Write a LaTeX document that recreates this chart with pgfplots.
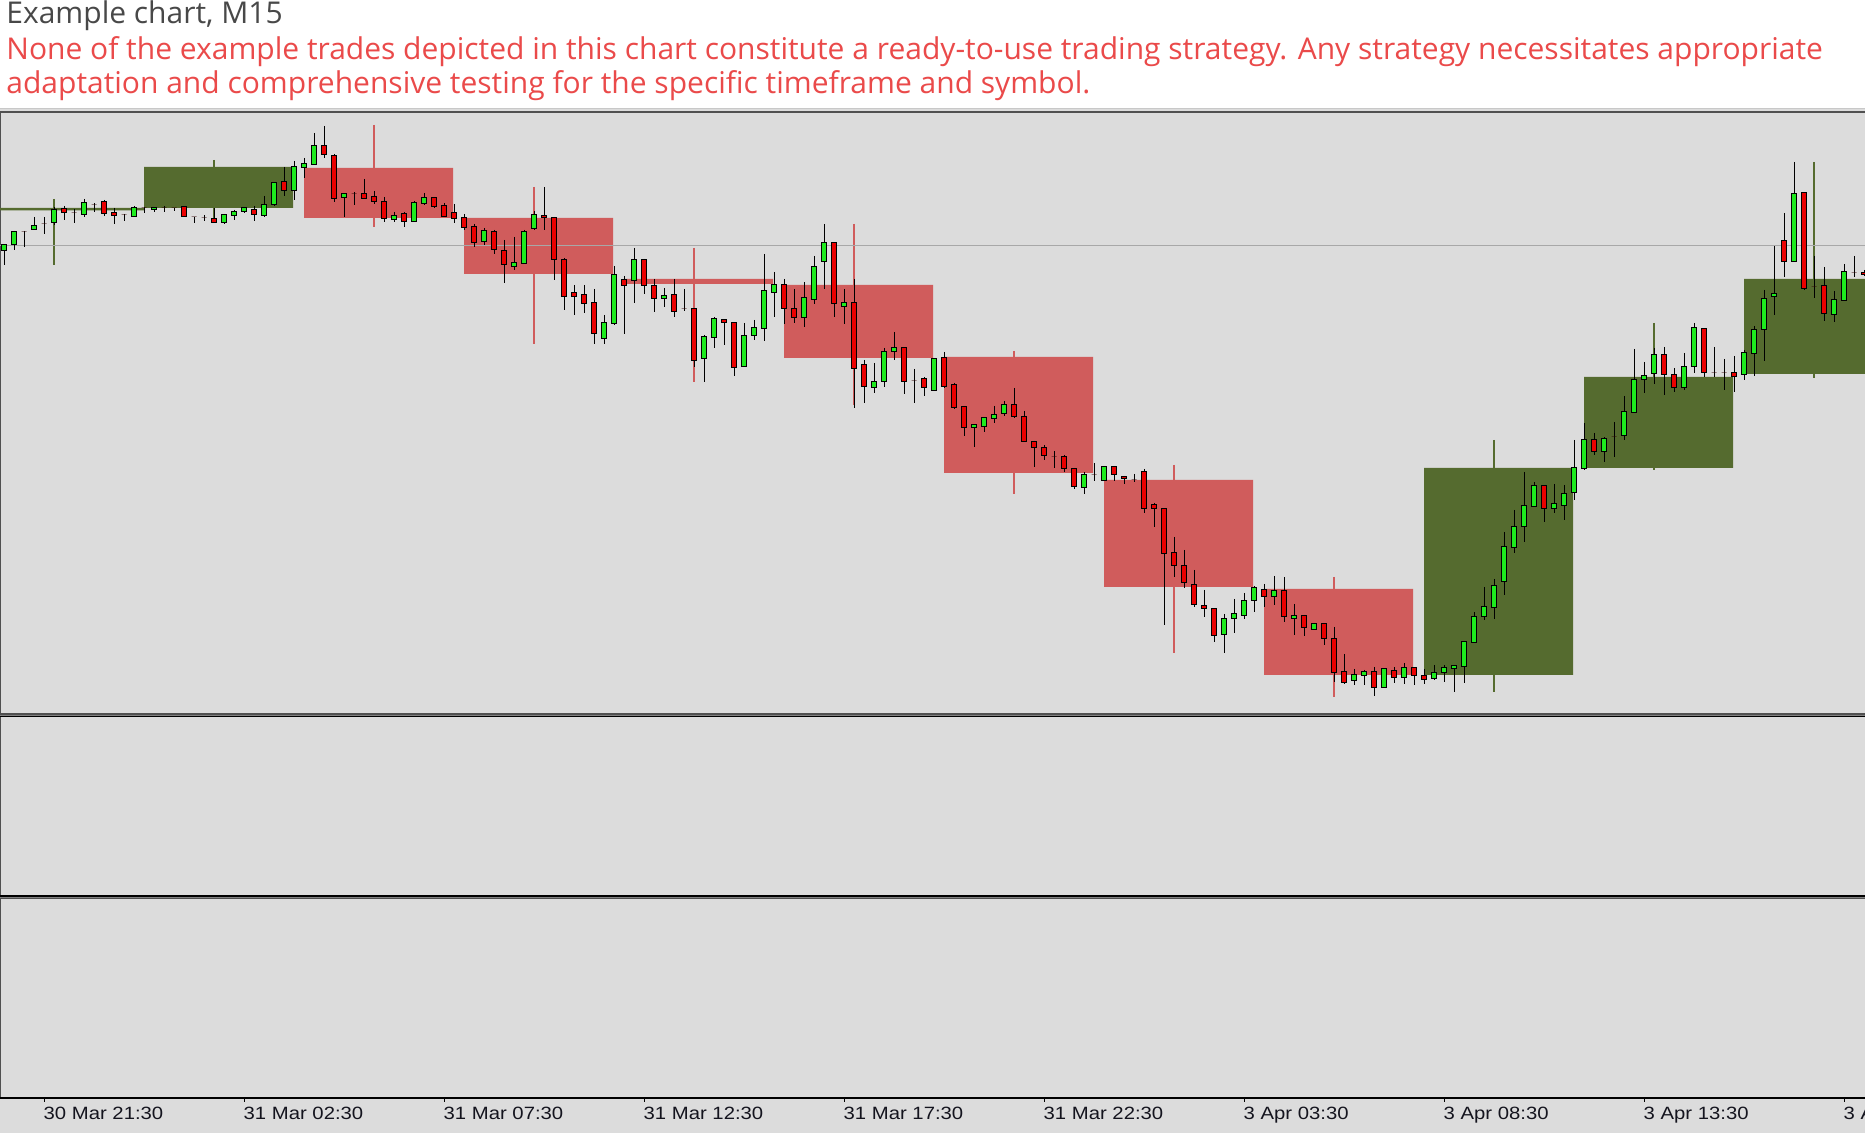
\documentclass[border=0pt]{standalone}
\usepackage{pgfplots}
\usepackage{pgfplotstable}
\pgfplotsset{compat=1.18}
\usepackage{fontspec}
\setmainfont{Open Sans}
\newfontfamily\tickfont[FakeStretch=1.14]{Liberation Sans}

\definecolor{bgc}{RGB}{220,220,220}
\definecolor{bullc}{RGB}{30,235,30}
\definecolor{bearc}{RGB}{235,0,0}
\definecolor{boxred}{RGB}{208,92,92}
\definecolor{boxgreen}{RGB}{85,107,47}
\definecolor{titlegray}{RGB}{72,72,72}
\definecolor{warnred}{RGB}{234,74,74}
\definecolor{pricec}{RGB}{168,168,168}
\definecolor{framec}{RGB}{80,80,80}
\definecolor{lightline}{RGB}{200,200,200}
\definecolor{tickc}{RGB}{20,20,30}

\tikzset{
  ticklab/.style={anchor=base west, inner sep=0pt, text=tickc, font=\tickfont\fontsize{8.9}{10}\selectfont},
  tickm/.style={black, line width=0.5pt},
  hdr/.style={anchor=base west, inner sep=0pt, font=\fontsize{15}{17}\selectfont},
}

\newdimen\cdH \newdimen\cdL \newdimen\cdO
\pgfdeclareplotmark{candle}{%
  \cdH=\cnC pt \advance\cdH by -\cnH pt \cdH=0.5\cdH
  \cdL=\cnC pt \advance\cdL by -\cnL pt \cdL=0.5\cdL
  \cdO=\cnC pt \advance\cdO by -\cnO pt \cdO=0.5\cdO
  \pgfsetlinewidth{0.5pt}%
  \pgfsetstrokecolor{black}%
  \pgfpathmoveto{\pgfqpoint{0pt}{\cdH}}%
  \pgfpathlineto{\pgfqpoint{0pt}{\cdL}}%
  \pgfusepathqstroke
  \ifdim\cdO<0pt \pgfsetfillcolor{bullc}\else\pgfsetfillcolor{bearc}\fi
  \pgfpathrectangle{\pgfqpoint{-1.25pt}{0pt}}{\pgfqpoint{2.5pt}{\cdO}}%
  \pgfusepathqfillstroke
}

\pgfplotstableread{
k o h l c
0 251 245 265 245
1 245 231 250 232
2 232 231 247 232
3 230 217 230 226
4 224 217 234 224
5 223 207 225 210
6 209 206 220 213
7 213 209 223 213
8 215 199 217 203
9 205 203 212 205
10 202 200 216 214
11 213 208 224 216
12 215 214 221 215
13 217 206 217 208
14 208 207 213 208
15 210 208 212 208
16 208 206 212 208
17 208 208 211 208
18 207 207 217 217
19 217 217 223 217
20 218 215 221 218
21 219 208 223 223
22 223 214 224 215
23 216 210 220 212
24 212 207 213 208
25 210 206 221 215
26 216 196 217 205
27 205 183 206 183
28 182 167 196 191
29 191 161 200 167
30 168 158 178 164
31 165 133 165 146
32 146 126 158 155
33 156 154 202 199
34 198 194 217 194
35 194 192 205 194
36 194 179 199 199
37 197 191 204 202
38 202 197 222 219
39 220 212 222 216
40 214 212 227 222
41 222 201 222 203
42 204 193 205 198
43 198 197 208 207
44 206 203 217 217
45 213 204 223 219
46 218 214 230 228
47 227 224 247 243
48 242 228 245 231
49 232 230 254 250
50 251 240 283 265
51 267 237 270 263
52 264 230 264 232
53 229 211 230 215
54 216 187 230 218
55 218 217 280 260
56 260 258 310 297
57 293 285 315 297
58 295 285 313 304
59 303 289 344 334
60 339 315 344 323
61 324 266 325 275
62 280 276 334 286
63 281 248 303 260
64 260 259 294 286
65 286 279 312 299
66 299 288 307 296
67 295 279 317 312
68 309 289 311 309
69 309 309 367 361
70 359 335 382 337
71 338 317 348 319
72 320 320 345 323
73 323 323 376 368
74 367 323 367 336
75 336 320 340 328
76 329 254 341 291
77 293 272 317 285
78 285 279 324 309
79 309 289 323 318
80 318 282 327 298
81 300 256 304 267
82 262 224 289 243
83 243 243 317 304
84 307 289 324 303
85 303 279 408 369
86 365 360 403 387
87 388 363 393 382
88 382 348 387 352
89 352 332 360 348
90 348 348 394 382
91 381 369 403 381
92 379 377 396 388
93 391 359 391 359
94 358 352 388 387
95 385 383 409 408
96 407 406 436 428
97 428 425 447 425
98 427 417 432 418
99 419 406 423 415
100 414 401 416 405
101 405 388 418 417
102 417 411 442 442
103 442 441 467 448
104 448 445 460 456
105 457 451 468 457
106 457 455 472 469
107 469 468 489 487
108 488 472 494 475
109 475 463 481 475
110 481 466 481 467
111 467 466 481 475
112 477 476 484 479
113 480 474 482 480
114 472 469 513 509
115 505 503 527 509
116 509 509 625 554
117 553 537 577 566
118 566 550 588 583
119 585 570 607 605
120 606 590 617 609
121 609 609 642 636
122 635 614 653 619
123 619 599 633 614
124 616 593 619 601
125 601 586 612 588
126 590 584 607 597
127 597 576 605 591
128 591 577 622 617
129 619 604 635 616
130 616 615 636 628
131 630 623 630 624
132 624 624 645 639
133 639 627 682 673
134 672 654 684 683
135 681 669 685 675
136 676 670 685 672
137 672 667 696 688
138 688 669 688 669
139 671 667 683 678
140 678 663 684 668
141 668 668 685 676
142 676 669 684 680
143 679 665 680 673
144 673 665 682 668
145 669 665 692 666
146 667 641 683 642
147 643 612 643 617
148 617 587 620 607
149 608 579 619 586
150 582 532 595 547
151 548 510 553 527
152 527 472 542 506
153 507 482 507 486
154 486 486 522 509
155 509 484 513 504
156 506 485 520 494
157 493 440 500 468
158 469 423 470 440
159 440 433 455 452
160 452 437 462 439
161 437 422 457 437
162 436 396 440 412
163 413 349 413 380
164 380 362 393 376
165 374 348 384 355
166 355 347 395 375
167 375 368 392 388
168 388 353 390 367
169 367 323 373 328
170 329 329 377 373
171 373 347 377 373
172 373 359 390 373
173 373 356 392 377
174 375 350 380 353
175 354 326 376 330
176 330 290 361 299
177 297 246 315 294
178 241 213 277 262
179 262 162 262 194
180 193 193 290 289
181 287 256 298 287
182 286 267 321 314
183 315 291 322 300
184 301 264 301 272
185 273 256 277 273
186 273 270 276 275
}\candles

\begin{document}
\begin{tikzpicture}
\begin{axis}[
  name=ax, at={(0,0)}, anchor=south west,
  scale only axis, width=932.5pt, height=566.5pt,
  xmin=-0.4, xmax=186.1, ymin=0, ymax=1133, y dir=reverse,
  axis lines=none, ticks=none, clip=true,
]
% background and frame
\fill[bgc] (axis cs:-0.4,108) rectangle (axis cs:186.1,1133);
\draw[lightline, line width=0.5pt] (axis cs:-0.4,108.5) -- (axis cs:186.1,108.5);
\draw[framec, line width=1pt] (axis cs:-0.4,112) -- (axis cs:186.1,112);
\draw[framec, line width=0.5pt] (axis cs:-0.35,112) -- (axis cs:-0.35,1098);
\draw[framec, line width=0.6pt] (axis cs:-0.4,714) -- (axis cs:186.1,714);
\draw[gray, line width=0.5pt] (axis cs:-0.4,715.2) -- (axis cs:186.1,715.2);
\draw[black, line width=0.6pt] (axis cs:-0.4,716.5) -- (axis cs:186.1,716.5);
\draw[black, line width=0.6pt] (axis cs:-0.4,896) -- (axis cs:186.1,896);
\draw[gray, line width=0.5pt] (axis cs:-0.4,897.3) -- (axis cs:186.1,897.3);
\draw[framec, line width=0.6pt] (axis cs:-0.4,898.5) -- (axis cs:186.1,898.5);
\draw[black, line width=0.6pt] (axis cs:-0.4,1098) -- (axis cs:186.1,1098);
\draw[tickm] (axis cs:4,1098) -- (axis cs:4,1101.5);
\draw[tickm] (axis cs:24,1098) -- (axis cs:24,1101.5);
\draw[tickm] (axis cs:44,1098) -- (axis cs:44,1101.5);
\draw[tickm] (axis cs:64,1098) -- (axis cs:64,1101.5);
\draw[tickm] (axis cs:84,1098) -- (axis cs:84,1101.5);
\draw[tickm] (axis cs:104,1098) -- (axis cs:104,1101.5);
\draw[tickm] (axis cs:124,1098) -- (axis cs:124,1101.5);
\draw[tickm] (axis cs:144,1098) -- (axis cs:144,1101.5);
\draw[tickm] (axis cs:164,1098) -- (axis cs:164,1101.5);
\draw[tickm] (axis cs:184,1098) -- (axis cs:184,1101.5);
\node[ticklab] at (axis cs:3.93,1119.3) {30 Mar 21:30};
\node[ticklab] at (axis cs:23.93,1119.3) {31 Mar 02:30};
\node[ticklab] at (axis cs:43.93,1119.3) {31 Mar 07:30};
\node[ticklab] at (axis cs:63.93,1119.3) {31 Mar 12:30};
\node[ticklab] at (axis cs:83.93,1119.3) {31 Mar 17:30};
\node[ticklab] at (axis cs:103.93,1119.3) {31 Mar 22:30};
\node[ticklab] at (axis cs:123.93,1119.3) {3 Apr 03:30};
\node[ticklab] at (axis cs:143.93,1119.3) {3 Apr 08:30};
\node[ticklab] at (axis cs:163.93,1119.3) {3 Apr 13:30};
\node[ticklab] at (axis cs:183.93,1119.3) {3 Apr 18:30};
% header
\node[hdr, text=titlegray] at (axis cs:0.2,23.5) {Example chart, M15};
\node[hdr, text=warnred] at (axis cs:0.2,59.5) {None of the example trades depicted in this chart constitute a ready-to-use trading strategy. Any strategy necessitates appropriate};
\node[hdr, text=warnred] at (axis cs:0.2,94) {adaptation and comprehensive testing for the specific timeframe and symbol.};

% trade markers (vertical lines)
\addplot[boxgreen, line width=1pt] coordinates {(5,199) (5,265)};
\addplot[boxgreen, line width=1pt] coordinates {(21,160) (21,222)};
\addplot[boxred, line width=1pt] coordinates {(37,125) (37,227)};
\addplot[boxred, line width=1pt] coordinates {(53,187) (53,344)};
\addplot[boxred, line width=1pt] coordinates {(69,248) (69,382)};
\addplot[boxred, line width=1pt] coordinates {(85,224) (85,405)};
\addplot[boxred, line width=1pt] coordinates {(101,351) (101,494)};
\addplot[boxred, line width=1pt] coordinates {(117,465) (117,653)};
\addplot[boxred, line width=1pt] coordinates {(133,577) (133,697)};
\addplot[boxgreen, line width=1pt] coordinates {(149,440) (149,692)};
\addplot[boxgreen, line width=1pt] coordinates {(165,323) (165,470)};
\addplot[boxgreen, line width=1pt] coordinates {(181,162) (181,378)};

% trade boxes
\addplot[fill=boxgreen, draw=none] coordinates {(-2,208) (14,208) (14,210.5) (-2,210.5) (-2,208)};
\addplot[fill=boxgreen, draw=none] coordinates {(14,167) (28.9,167) (28.9,208) (14,208) (14,167)};
\addplot[fill=boxred, draw=none] coordinates {(30,168) (44.9,168) (44.9,218) (30,218) (30,168)};
\addplot[fill=boxred, draw=none] coordinates {(46,218) (60.9,218) (60.9,274) (46,274) (46,218)};
\addplot[fill=boxred, draw=none] coordinates {(62,279) (76.9,279) (76.9,284) (62,284) (62,279)};
\addplot[fill=boxred, draw=none] coordinates {(78,285) (92.9,285) (92.9,358) (78,358) (78,285)};
\addplot[fill=boxred, draw=none] coordinates {(94,357) (108.9,357) (108.9,473) (94,473) (94,357)};
\addplot[fill=boxred, draw=none] coordinates {(110,480) (124.9,480) (124.9,587) (110,587) (110,480)};
\addplot[fill=boxred, draw=none] coordinates {(126,589) (140.9,589) (140.9,675) (126,675) (126,589)};
\addplot[fill=boxgreen, draw=none] coordinates {(142,468) (156.9,468) (156.9,675) (142,675) (142,468)};
\addplot[fill=boxgreen, draw=none] coordinates {(158,377) (172.9,377) (172.9,468) (158,468) (158,377)};
\addplot[fill=boxgreen, draw=none] coordinates {(174,279) (188.9,279) (188.9,374) (174,374) (174,279)};

% price line
\addplot[pricec, line width=0.5pt] coordinates {(-0.4,246) (186.1,246)};

% candles
\addplot[only marks, mark=candle,
  visualization depends on={\thisrow{o}\as\cnO},
  visualization depends on={\thisrow{h}\as\cnH},
  visualization depends on={\thisrow{l}\as\cnL},
  visualization depends on={\thisrow{c}\as\cnC},
] table[x=k, y=c] {\candles};
\end{axis}
\pgfresetboundingbox
\path[use as bounding box] (ax.south west) rectangle (ax.north east);
\end{tikzpicture}
\end{document}
